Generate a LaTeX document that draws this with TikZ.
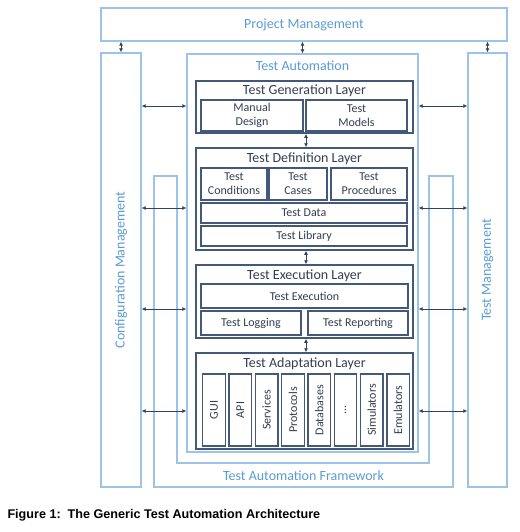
\documentclass[tikz,border=0pt]{standalone}
\usepackage{fontspec}
\setmainfont{Carlito}
\newfontfamily\capfont{Liberation Sans}
\usetikzlibrary{arrows.meta}
\definecolor{lightln}{HTML}{9DC3E6}
\definecolor{lighttx}{HTML}{5B9BD5}
\definecolor{darkln}{HTML}{44587A}
\definecolor{darktx}{HTML}{333F50}
\definecolor{arrcol}{HTML}{2F4460}
\tikzset{
  outerbox/.style={draw=lightln, line width=1.3pt, rectangle, inner sep=0pt},
  layerbox/.style={draw=darkln, line width=1.5pt, rectangle, inner sep=0pt},
  innerbox/.style={draw=darkln, line width=1.3pt, rectangle, inner sep=0pt, text=darktx,
    font=\fontsize{12}{14}\selectfont, align=center},
  vbox/.style={innerbox, minimum width=22.5pt, minimum height=72pt},
  outerlabel/.style={text=lighttx, font=\fontsize{14}{16}\selectfont},
  layerlabel/.style={text=darktx, font=\fontsize{14}{16}\selectfont},
  arr/.style={draw=arrcol, line width=0.8pt, {Latex[length=4pt,width=4pt]}-{Latex[length=4pt,width=4pt]}}
}
\begin{document}
\begin{tikzpicture}[x=1pt,y=-1pt]
\useasboundingbox (0,0) rectangle (519,532);
% outer boxes
\node[outerbox, minimum width=406pt, minimum height=33pt] (pm) at (304,24.5) {};
\node[outerlabel] (pmlbl) at (pm.center) {Project Management};
\node[outerbox, minimum width=40pt, minimum height=434pt] (cm) at (121,270) {};
\node[outerlabel, rotate=90] (cmlbl) at (cm.center) {Configuration Management};
\node[outerbox, minimum width=39pt, minimum height=434pt] (tm) at (487.5,270) {};
\node[outerlabel, rotate=90] (tmlbl) at (tm.center) {Test Management};
% framework U shape
\draw[draw=lightln, line width=1.3pt] (154,176) -- (154,487) -- (453,487) -- (453,176) -- (429,176) -- (429,463) -- (177,463) -- (177,176) -- cycle;
\node[outerlabel] (tafl) at (303.5,476) {Test Automation Framework};
% test automation
\node[outerbox, fill=white, minimum width=231pt, minimum height=398pt] (ta) at (302.5,253) {};
\node[outerlabel] (talbl) at (302.5,65.5) {Test Automation};
% layers
\node[layerbox, minimum width=217pt, minimum height=52pt] (gen) at (304.5,107) {};
\node[layerlabel] (genlbl) at (304.5,91) {Test Generation Layer};
\node[innerbox, minimum width=102pt, minimum height=31pt] (manual) at (252,115.5) {Manual\\Design};
\node[innerbox, minimum width=101pt, minimum height=31pt] (models) at (356.5,115.5) {Test\\Models};

\node[layerbox, minimum width=217pt, minimum height=102pt] (def) at (304.5,199) {};
\node[layerlabel] (deflbl) at (304.5,159) {Test Definition Layer};
\node[innerbox, minimum width=66pt, minimum height=32pt] (cond) at (234,184) {Test\\Conditions};
\node[innerbox, minimum width=58pt, minimum height=32pt] (cases) at (298,184) {Test\\Cases};
\node[innerbox, minimum width=76pt, minimum height=32pt] (proc) at (369,184) {Test\\Procedures};
\node[innerbox, minimum width=206pt, minimum height=20pt] (data) at (304,213) {Test Data};
\node[innerbox, minimum width=206pt, minimum height=20pt] (lib) at (304,236) {Test Library};

\node[layerbox, minimum width=217pt, minimum height=73pt] (exe) at (304.5,301.5) {};
\node[layerlabel] (exelbl) at (304.5,275.5) {Test Execution Layer};
\node[innerbox, minimum width=207pt, minimum height=24pt] (texec) at (304.5,296) {Test Execution};
\node[innerbox, minimum width=100pt, minimum height=24pt] (logging) at (251,323) {Test Logging};
\node[innerbox, minimum width=100pt, minimum height=24pt] (reporting) at (358,323) {Test Reporting};

\node[layerbox, minimum width=217pt, minimum height=96pt] (ada) at (304.5,401) {};
\node[layerlabel] (adalbl) at (304.5,364) {Test Adaptation Layer};
\node[vbox] (gui) at (214,410) {\rotatebox{90}{GUI}};
\node[vbox] (api) at (240.3,410) {\rotatebox{90}{API}};
\node[vbox] (serv) at (266.6,410) {\rotatebox{90}{Services}};
\node[vbox] (prot) at (292.9,410) {\rotatebox{90}{Protocols}};
\node[vbox] (db) at (319.2,410) {\rotatebox{90}{Databases}};
\node[vbox] (dots) at (345.5,410) {\rotatebox{90}{...}};
\node[vbox] (sim) at (371.8,410) {\rotatebox{90}{Simulators}};
\node[vbox] (emu) at (398.1,410) {\rotatebox{90}{Emulators}};

% vertical arrows
\draw[arr] (pm.south -| cm.north) -- (cm.north);
\draw[arr] (pm.south -| ta.north) -- (ta.north);
\draw[arr] (pm.south -| tm.north) -- (tm.north);
\draw[arr] ([xshift=1.5pt]gen.south) -- ([xshift=1.5pt]def.north);
\draw[arr] ([xshift=1.5pt]def.south) -- ([xshift=1.5pt]exe.north);
\draw[arr] ([xshift=1.5pt]exe.south) -- ([xshift=1.5pt]ada.north);
% horizontal arrows
\foreach \yy in {106,208,309,411}{
  \draw[arr] (cm.east |- {0,\yy}) -- (ta.west |- {0,\yy});
  \draw[arr] (ta.east |- {0,\yy}) -- (tm.west |- {0,\yy});
}
% caption
\node[anchor=west, font=\capfont\bfseries\fontsize{12.6}{15}\selectfont] (cap) at (4,515) {Figure 1:\ \ The Generic Test Automation Architecture};
\end{tikzpicture}
\end{document}
